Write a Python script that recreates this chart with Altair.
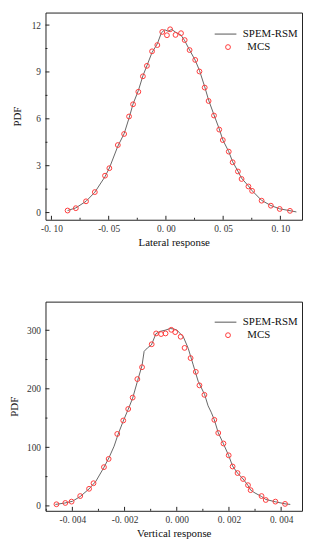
import altair as alt
import pandas as pd

# ---------------- Lateral response (top panel) ----------------
lat_mcs_x = [-0.0859, -0.0787, -0.0698, -0.0621, -0.0532, -0.0494, -0.0420, -0.0365, -0.0322,
             -0.0287, -0.0241, -0.0201, -0.0166, -0.0121, -0.0075, -0.0032, 0.0009, 0.0037,
             0.0084, 0.0132, 0.0164, 0.0207, 0.0256, 0.0293, 0.0339, 0.0373, 0.0420, 0.0466,
             0.0497, 0.0549, 0.0583, 0.0629, 0.0661, 0.0721, 0.0753, 0.0836, 0.0917, 0.0994, 0.1084]
lat_mcs_y = [0.13, 0.28, 0.72, 1.31, 2.36, 2.84, 4.32, 5.03, 6.15,
             6.93, 7.73, 8.72, 9.39, 10.32, 10.72, 11.56, 11.35, 11.73,
             11.37, 11.48, 11.04, 10.40, 9.77, 9.03, 8.00, 7.14, 6.21, 5.31,
             4.64, 3.90, 3.22, 2.63, 2.15, 1.67, 1.39, 0.76, 0.44, 0.23, 0.11]

lat_line_x = [-0.0859, -0.0787, -0.0698, -0.0621, -0.0532, -0.0494, -0.0420, -0.0365, -0.0322,
              -0.0287, -0.0241, -0.0201, -0.0166, -0.0121, -0.0075, -0.0040, -0.0010, 0.0020,
              0.0050, 0.0084, 0.0132, 0.0164, 0.0207, 0.0256, 0.0293, 0.0339, 0.0373, 0.0420,
              0.0466, 0.0497, 0.0549, 0.0583, 0.0629, 0.0661, 0.0721, 0.0753, 0.0836, 0.0917,
              0.0994, 0.1084, 0.1140]
lat_line_y = [0.13, 0.30, 0.72, 1.30, 2.30, 2.85, 4.25, 5.05, 6.05,
              6.95, 7.80, 8.75, 9.40, 10.25, 10.80, 11.50, 11.70, 11.60,
              11.72, 11.55, 11.35, 11.00, 10.40, 9.75, 9.10, 8.05, 7.20, 6.25,
              5.35, 4.65, 3.90, 3.25, 2.65, 2.20, 1.70, 1.40, 0.78, 0.45,
              0.24, 0.12, 0.04]

lat_x_major = [-0.10, -0.05, 0.0, 0.05, 0.10]
lat_x_minor = [-0.075, -0.025, 0.025, 0.075]
lat_y_major = [0, 3, 6, 9, 12]
lat_y_minor = [1.5, 4.5, 7.5, 10.5]

# ---------------- Vertical response (bottom panel) ----------------
ver_mcs_x = [-0.00461, -0.00427, -0.00403, -0.00370, -0.00336, -0.00319, -0.00279, -0.00261,
             -0.00228, -0.00205, -0.00186, -0.00169, -0.00151, -0.00133, -0.00096, -0.00079,
             -0.00060, -0.00043, -0.00021, -0.00006, 0.00015, 0.00030, 0.00053, 0.00073,
             0.00087, 0.00106, 0.00144, 0.00159, 0.00179, 0.00199, 0.00214, 0.00233,
             0.00254, 0.00273, 0.00283, 0.00325, 0.00341, 0.00378, 0.00415]
ver_mcs_y = [2.8, 5.0, 7.3, 16.8, 29.2, 38.7, 66.2, 80.2,
             122.9, 145.9, 165.5, 185.0, 216.6, 236.9, 276.1, 294.6,
             293.5, 294.6, 300.8, 296.8, 289.0, 269.9, 252.5, 229.0,
             205.9, 189.7, 147.0, 124.6, 106.6, 86.4, 67.3, 56.1,
             46.0, 35.4, 26.9, 16.8, 10.1, 7.3, 3.4]

ver_line_x = [-0.00465, -0.00430, -0.00400, -0.00370, -0.00336, -0.00310, -0.00280, -0.00260,
              -0.00240, -0.00225, -0.00205, -0.00186, -0.00169, -0.00150, -0.00133, -0.00125,
              -0.00112, -0.00097, -0.00080, -0.00065, -0.00045, -0.00025, -0.00010, 0.00000,
              0.00025, 0.00044, 0.00063, 0.00082, 0.00107, 0.00120, 0.00132, 0.00144,
              0.00159, 0.00179, 0.00199, 0.00214, 0.00233, 0.00254, 0.00273, 0.00283,
              0.00300, 0.00325, 0.00341, 0.00378, 0.00415, 0.00435]
ver_line_y = [2.5, 4.8, 7.8, 16, 29, 42, 65, 82,
              102, 122, 145, 165, 184, 214, 240, 264,
              270, 275, 294, 298, 300, 303, 302, 300.5,
              289, 269, 241, 213, 190, 171, 160, 147,
              125, 106, 86, 68, 56, 46, 35, 27,
              22, 16, 11, 7, 3.5, 2.5]

ver_x_major = [-0.004, -0.002, 0.0, 0.002, 0.004]
ver_x_minor = [-0.005, -0.003, -0.001, 0.001, 0.003]
ver_y_major = [0, 100, 200, 300]
ver_y_minor = [50, 150, 250]

FONT = "Liberation Serif"
LINE_NAME = "SPEM-RSM"
MCS_NAME = "MCS"
W = 260


def panel(mx, my, lx, ly, xdom, ydom, xmaj, xmin, ymaj, ymin, xtitle, fmt,
          H, title_x, leg_line_y, leg_pt_y):
    xs = alt.Scale(domain=xdom, nice=False, zero=False)
    ys = alt.Scale(domain=ydom, nice=False, zero=False)
    lab = "replace(replace(format(datum.value, '%s'), '\u2212', '-'), '.', '. ')" % fmt
    xax = alt.Axis(values=xmaj, labelExpr=lab, ticks=False, grid=False, domain=False,
                   title=xtitle, labelPadding=4, titlePadding=4,
                   labelFontSize=9.5, titleFontSize=11, labelColor="#333", titleColor="#111",
                   titleFontWeight="normal")
    yax = alt.Axis(values=ymaj, ticks=False, grid=False, domain=False, title="PDF",
                   labelPadding=5, labelFontSize=9.5, titleFontSize=11,
                   labelColor="#333", titleColor="#111", titleFontWeight="normal",
                   titleX=title_x, titleY=H / 2)

    dline = pd.DataFrame({"x": lx, "y": ly, "s": LINE_NAME})
    dpts = pd.DataFrame({"x": mx, "y": my, "s": MCS_NAME})

    line = alt.Chart(dline).mark_line(color="#444444", strokeWidth=0.9).encode(
        x=alt.X("x:Q", scale=xs, axis=xax),
        y=alt.Y("y:Q", scale=ys, axis=yax),
        stroke=alt.Stroke("s:N", scale=alt.Scale(domain=[LINE_NAME], range=["#555555"]),
                          legend=alt.Legend(title=None, orient="none", legendX=171,
                                            legendY=leg_line_y, symbolType="stroke",
                                            symbolSize=484, symbolStrokeWidth=1,
                                            labelOffset=6, labelFontSize=11, padding=0,
                                            labelColor="#111")),
    )
    pts = alt.Chart(dpts).mark_point(filled=False, color="#ff3b3b", size=24,
                                     strokeWidth=1, opacity=1).encode(
        x=alt.X("x:Q", scale=xs),
        y=alt.Y("y:Q", scale=ys),
        shape=alt.Shape("s:N", scale=alt.Scale(domain=[MCS_NAME], range=["circle"]),
                        legend=alt.Legend(title=None, orient="none", legendX=179.5,
                                          legendY=leg_pt_y, symbolSize=24,
                                          symbolStrokeColor="#ff3b3b",
                                          symbolFillColor="transparent",
                                          symbolStrokeWidth=1, labelOffset=14,
                                          labelFontSize=11, padding=0, labelColor="#111")),
    )

    xt_maj = alt.Chart(pd.DataFrame({"v": xmaj})).mark_rule(color="#222", strokeWidth=1).encode(
        x=alt.X("v:Q", scale=xs), y=alt.value(H), y2=alt.value(H - 4))
    xt_min = alt.Chart(pd.DataFrame({"v": xmin})).mark_rule(color="#222", strokeWidth=1).encode(
        x=alt.X("v:Q", scale=xs), y=alt.value(H), y2=alt.value(H - 2))
    yt_maj = alt.Chart(pd.DataFrame({"v": ymaj})).mark_rule(color="#222", strokeWidth=1).encode(
        y=alt.Y("v:Q", scale=ys), x=alt.value(0), x2=alt.value(4))
    yt_min = alt.Chart(pd.DataFrame({"v": ymin})).mark_rule(color="#222", strokeWidth=1).encode(
        y=alt.Y("v:Q", scale=ys), x=alt.value(0), x2=alt.value(2))

    return alt.layer(line, pts, xt_maj, xt_min, yt_maj, yt_min).properties(width=W, height=H)


top = panel(lat_mcs_x, lat_mcs_y, lat_line_x, lat_line_y,
            [-0.1052, 0.1189], [-0.46, 12.80],
            lat_x_major, lat_x_minor, lat_y_major, lat_y_minor,
            "Lateral response", ".2f", 210, -23, 10.3, 29.5)

bottom = panel(ver_mcs_x, ver_mcs_y, ver_line_x, ver_line_y,
               [-0.00503, 0.00480], [-8.4, 348.9],
               ver_x_major, ver_x_minor, ver_y_major, ver_y_minor,
               "Vertical response", ".3f", 212, -26, 9.3, 28.5)

chart = alt.vconcat(top, bottom, spacing=53).resolve_scale(
    x="independent", y="independent", stroke="independent", shape="independent"
).resolve_legend(stroke="independent", shape="independent").configure(
    font=FONT, padding=0, background="white"
).configure_view(stroke="#222", strokeWidth=1).configure_axis(
    labelFont=FONT, titleFont=FONT
).configure_legend(labelFont=FONT)

chart.save("out.html", embed_options={"renderer": "svg", "actions": False})
